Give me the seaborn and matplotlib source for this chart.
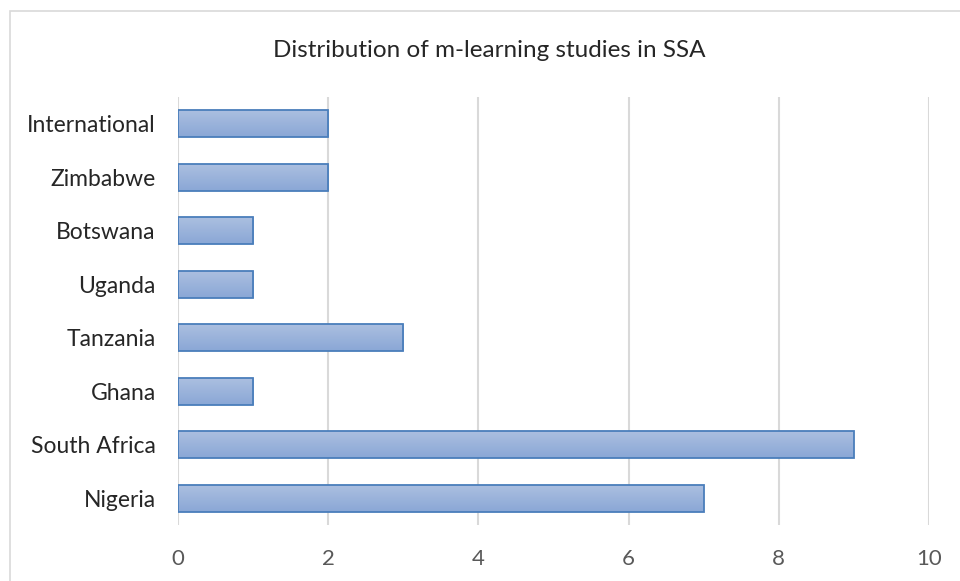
import numpy as np
import pandas as pd
import matplotlib
matplotlib.use('Agg')
import matplotlib.pyplot as plt
import seaborn as sns
from matplotlib.patches import Rectangle
from matplotlib.colors import LinearSegmentedColormap

countries = ['International', 'Zimbabwe', 'Botswana', 'Uganda', 'Tanzania',
             'Ghana', 'South Africa', 'Nigeria']
studies = [2, 2, 1, 1, 3, 1, 9, 7]

df = pd.DataFrame({'country': countries, 'studies': studies})

sns.set_style('white')
plt.rcParams['font.family'] = ['Lato', 'DejaVu Sans']

fig = plt.figure(figsize=(9.6, 5.81), dpi=100)
ax = fig.add_axes([0.1854, 0.0964, 0.7823, 0.7366])

sns.barplot(data=df, x='studies', y='country', orient='h', ax=ax,
            width=0.5, color='#9cb4dc', edgecolor='#4a7ebb', linewidth=1.3)

# gradient fill inside each bar (lighter on top, darker at bottom)
cmap = LinearSegmentedColormap.from_list('bar', ['#abbfe0', '#8aa7d6'])
grad = np.linspace(0, 1, 64).reshape(-1, 1)
for p in ax.patches:
    x0, y0 = p.get_x(), p.get_y()
    w, h = p.get_width(), p.get_height()
    im = ax.imshow(grad, cmap=cmap, aspect='auto', extent=(x0, x0 + w, y0 + h, y0),
                   zorder=p.get_zorder(), interpolation='bicubic')
    im.set_clip_path(p)
    p.set_facecolor('none')
    p.set_zorder(3)

ax.set_xlim(0, 10)
ax.set_ylim(7.5, -0.5)
ax.set_xticks(range(0, 11, 2))
ax.xaxis.grid(True, color='#d9d9d9', linewidth=1.5)
ax.set_axisbelow(True)
for s in ax.spines.values():
    s.set_visible(False)
ax.set_xlabel('')
ax.set_ylabel('')
ax.tick_params(axis='x', colors='#595959', labelsize=16, length=0, pad=17)
ax.tick_params(axis='y', colors='#262626', labelsize=16.5, length=0, pad=16)

fig.text(0.51, 0.913, 'Distribution of m-learning studies in SSA', ha='center',
         va='center', fontsize=17.5, color='#262626')

fig.patches.append(Rectangle((10 / 960, -0.1), 1.2, 1 - 11 / 581 + 0.1,
                             transform=fig.transFigure, fill=False,
                             edgecolor='#d9d9d9', linewidth=1.2))

fig.savefig('out.png', dpi=100, facecolor='white')
